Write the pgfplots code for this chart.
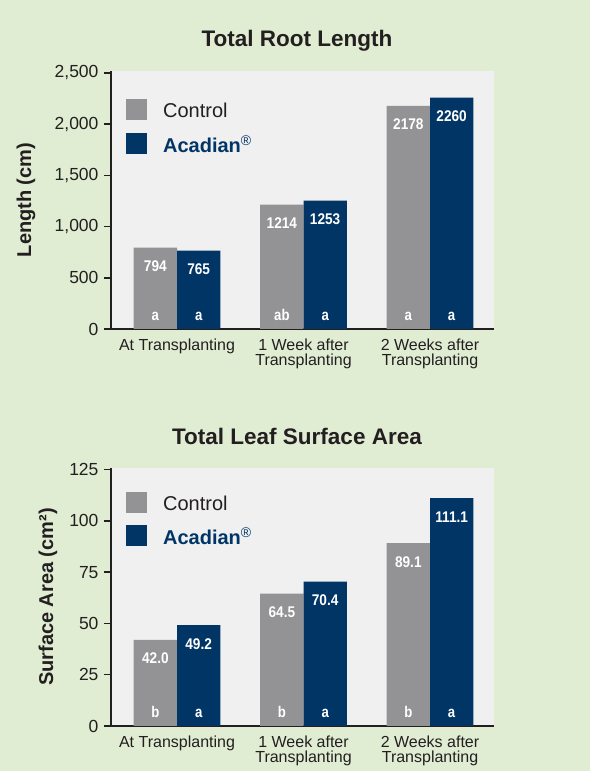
\documentclass[border=0pt]{standalone}
\usepackage{fontspec}
\setmainfont{Liberation Sans}
\usepackage{pgfplots}
\pgfplotsset{compat=1.18}
\usepackage{pgfplotstable}
\definecolor{bgc}{RGB}{224,237,211}
\definecolor{plotbg}{RGB}{240,240,240}
\definecolor{ctrl}{RGB}{147,147,150}
\definecolor{acnavy}{RGB}{0,53,102}
\definecolor{txt}{RGB}{35,31,32}

\pgfplotstableread{
x y z lab let
0 794 0 794 a
1 1214 0 1214 ab
2 2178 0 2178 a
}\rootctrl
\pgfplotstableread{
x y z lab let
0 765 0 765 a
1 1253 0 1253 a
2 2260 0 2260 a
}\rootacad
\pgfplotstableread{
x y z lab let
0 42.0 0 42.0 b
1 64.5 0 64.5 b
2 89.1 0 89.1 b
}\leafctrl
\pgfplotstableread{
x y z lab let
0 49.2 0 49.2 a
1 70.4 0 70.4 a
2 111.1 0 111.1 a
}\leafacad

\pgfplotsset{
  sqlegend/.style={legend image code/.code={\fill[##1] (0pt,-8.9pt) rectangle (21pt,12.1pt);}},
  vallab/.style={nodes near coords={\scalebox{0.88}[1]{\pgfplotspointmeta}}, point meta=explicit symbolic,
    every node near coord/.append style={anchor=base, yshift=-24pt, text=white, inner sep=0pt,
      font=\bfseries\fontsize{15.5}{16}\selectfont}},
  letlab/.style={nodes near coords={\scalebox{0.85}[1]{\pgfplotspointmeta}}, point meta=explicit symbolic,
    every node near coord/.append style={anchor=base, yshift=8.5pt, text=white, inner sep=0pt,
      font=\bfseries\fontsize{15.5}{16}\selectfont}},
  mybars/.style={
    scale only axis, width=383pt, height=258pt,
    xmin=-0.522, xmax=2.506, ymin=0,
    axis x line*=bottom, axis y line*=left,
    axis line style={-, line width=2pt, color=txt},
    every outer x axis line/.append style={-},
    every outer y axis line/.append style={-},
    axis background/.style={fill=plotbg},
    ybar=0pt, bar width=43.3pt,
    xtick={0,1,2},
    xticklabels={At Transplanting,{1 Week after\\Transplanting},{2 Weeks after\\Transplanting}},
    xtick style={draw=none},
    ytick style={line width=1.5pt, color=txt},
    tick align=outside, major tick length=7pt,
    /pgf/number format/assume math mode=true,
    /pgf/number format/1000 sep={,},
    yticklabel style={font=\fontsize{17.5}{18}\selectfont, text=txt, xshift=-2pt},
    xticklabel style={font=\fontsize{16}{15.7}\selectfont, text=txt, align=center, anchor=north, inner sep=0pt, yshift=-2.5pt},
    legend style={anchor=north west, draw=none, fill=none,
      font=\fontsize{20}{24}\selectfont, text=txt, row sep=12.5pt, column sep=15pt, inner sep=0pt,
      nodes={inner sep=1pt}},
    legend cell align=left,
    title style={at={(axis description cs:0.4856,1)}, anchor=base, yshift=18pt,
      font=\bfseries\fontsize{22.5}{26}\selectfont, text=txt},
    ylabel style={anchor=center, font=\bfseries\fontsize{20}{22}\selectfont, text=txt},
  }
}

\begin{document}
\begin{tikzpicture}
\path[fill=bgc, use as bounding box] (0,0) rectangle (590pt,771pt);

\begin{axis}[mybars, at={(111pt,442pt)}, anchor=south west,
  ymax=2519.5, ytick={0,500,1000,1500,2000,2500},
  title={Total Root Length},
  ylabel={Length (cm)},
  ylabel style={at={(axis description cs:-0.222,0.5)}},
  legend style={at={(axis description cs:0.039,0.891)}}]
\addplot[fill=ctrl, draw=none, bar shift=-21.65pt, sqlegend, vallab] table[x=x,y=y,meta=lab] {\rootctrl};
\addplot[fill=acnavy, draw=none, bar shift=21.65pt, sqlegend, vallab] table[x=x,y=y,meta=lab] {\rootacad};
\addplot[draw=none, fill=none, bar shift=-21.65pt, forget plot, letlab] table[x=x,y=z,meta=let] {\rootctrl};
\addplot[draw=none, fill=none, bar shift=21.65pt, forget plot, letlab] table[x=x,y=z,meta=let] {\rootacad};
\addlegendentry{Control}
\addlegendentry{\textcolor{acnavy}{\textbf{Acadian}\textsuperscript{®}}}
\end{axis}

\begin{axis}[mybars, at={(111pt,45pt)}, anchor=south west,
  ymax=125.73, ytick={0,25,50,75,100,125},
  title={Total Leaf Surface Area},
  title style={yshift=-1pt},
  ylabel={Surface Area (cm²)},
  ylabel style={at={(axis description cs:-0.1645,0.5)}},
  legend style={at={(axis description cs:0.039,0.907)}, row sep=11.5pt}]
\addplot[fill=ctrl, draw=none, bar shift=-21.65pt, sqlegend, vallab] table[x=x,y=y,meta=lab] {\leafctrl};
\addplot[fill=acnavy, draw=none, bar shift=21.65pt, sqlegend, vallab] table[x=x,y=y,meta=lab] {\leafacad};
\addplot[draw=none, fill=none, bar shift=-21.65pt, forget plot, letlab] table[x=x,y=z,meta=let] {\leafctrl};
\addplot[draw=none, fill=none, bar shift=21.65pt, forget plot, letlab] table[x=x,y=z,meta=let] {\leafacad};
\addlegendentry{Control}
\addlegendentry{\textcolor{acnavy}{\textbf{Acadian}\textsuperscript{®}}}
\end{axis}
\end{tikzpicture}
\end{document}
